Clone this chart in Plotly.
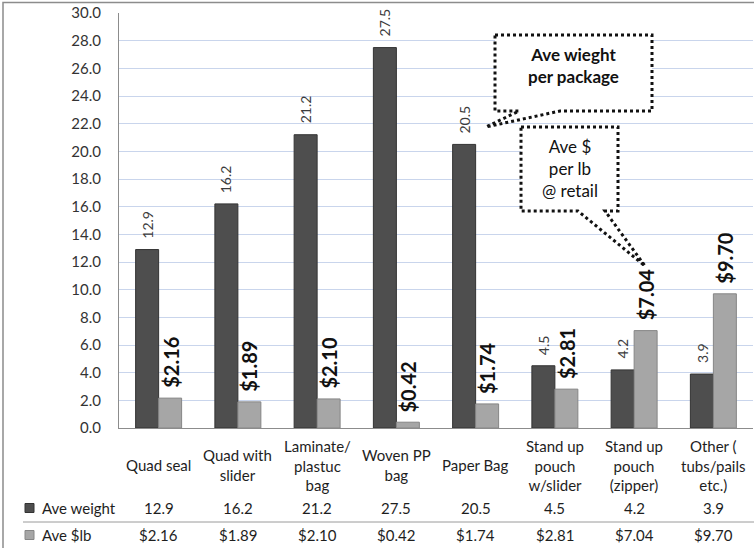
import plotly.graph_objects as go

# ---- data -------------------------------------------------------------
categories = ["Quad seal", "Quad with slider", "Laminate/ plastuc bag",
              "Woven PP bag", "Paper Bag", "Stand up pouch w/slider",
              "Stand up pouch (zipper)", "Other ( tubs/pails etc.)"]
category_labels = ["Quad seal", "Quad with<br>slider", "Laminate/<br>plastuc<br>bag",
                   "Woven PP<br>bag", "Paper Bag", "Stand up<br>pouch<br>w/slider",
                   "Stand up<br>pouch<br>(zipper)", "Other (<br>tubs/pails<br>etc.)"]
ave_weight = [12.9, 16.2, 21.2, 27.5, 20.5, 4.5, 4.2, 3.9]
ave_price_lb = [2.16, 1.89, 2.10, 0.42, 1.74, 2.81, 7.04, 9.70]
series_names = ["Ave weight", "Ave $lb"]
y_ticks = [0, 2, 4, 6, 8, 10, 12, 14, 16, 18, 20, 22, 24, 26, 28, 30]

# ---- layout constants (pixels) ---------------------------------------
FIG_W, FIG_H = 754, 548
M_L, M_R, M_T, M_B = 119, 1, 13, 120
PW, PH = FIG_W - M_L - M_R, FIG_H - M_T - M_B
FONT = "Lato, 'Open Sans', sans-serif"
DARK, DARK_EDGE = "#4e4e4e", "#333333"
LIGHT, LIGHT_EDGE = "#a6a6a6", "#868686"
TEXT = "#1e1e1e"


def px(x):
    """Pixel column -> paper x."""
    return (x - M_L) / PW


def py(y):
    """Pixel row -> paper y."""
    return (FIG_H - M_B - y) / PH


fig = go.Figure()
fig.add_trace(go.Bar(x=categories, y=ave_weight, name=series_names[0],
                     marker=dict(color=DARK, line=dict(color=DARK_EDGE, width=1))))
fig.add_trace(go.Bar(x=categories, y=ave_price_lb, name=series_names[1],
                     marker=dict(color=LIGHT, line=dict(color=LIGHT_EDGE, width=1))))

annotations = []
half_bar = 11.5
for cat, w, p in zip(categories, ave_weight, ave_price_lb):
    annotations.append(dict(x=cat, y=w, xref="x", yref="y", text=f"{w:.1f}",
                            textangle=-90, showarrow=False, xanchor="center",
                            yanchor="bottom", xshift=-half_bar, yshift=9,
                            font=dict(family=FONT, size=14, color="#3c3c3c")))
    annotations.append(dict(x=cat, y=p, xref="x", yref="y", text=f"<b>${p:.2f}</b>",
                            textangle=-90, showarrow=False, xanchor="center",
                            yanchor="bottom", xshift=half_bar, yshift=8,
                            font=dict(family=FONT, size=20, color="#111111")))

# category names and data table beneath the axis
for cat, lab, w, p in zip(categories, category_labels, ave_weight, ave_price_lb):
    annotations.append(dict(x=cat, y=0, xref="x", yref="paper", text=lab,
                            showarrow=False, yanchor="middle", yshift=-37,
                            font=dict(family=FONT, size=15, color=TEXT)))
    annotations.append(dict(x=cat, y=0, xref="x", yref="paper", text=f"{w:.1f}",
                            showarrow=False, yanchor="middle", yshift=-80,
                            font=dict(family=FONT, size=15, color=TEXT)))
    annotations.append(dict(x=cat, y=0, xref="x", yref="paper", text=f"${p:.2f}",
                            showarrow=False, yanchor="middle", yshift=-107,
                            font=dict(family=FONT, size=15, color=TEXT)))

for name, yrow in zip(series_names, [508, 535]):
    annotations.append(dict(x=px(40), y=py(yrow), xref="paper", yref="paper",
                            text=name, showarrow=False, xanchor="left", yanchor="middle",
                            font=dict(family=FONT, size=15, color=TEXT)))

# callout texts
annotations.append(dict(x=px(573), y=py(66), xref="paper", yref="paper",
                        text="<b>Ave wieght<br>per package</b>", showarrow=False,
                        xanchor="center", yanchor="middle",
                        font=dict(family=FONT, size=17, color="#111111")))
annotations.append(dict(x=px(570), y=py(169), xref="paper", yref="paper",
                        text="Ave $<br>per lb<br>@ retail", showarrow=False,
                        xanchor="center", yanchor="middle",
                        font=dict(family=FONT, size=17, color="#111111")))


def path(points):
    return "M " + " L ".join(f"{px(x):.5f},{py(y):.5f}" for x, y in points) + " Z"


dotted = dict(color="#111111", width=3, dash="dot")
shapes = [
    # outer chart frame
    dict(type="rect", xref="paper", yref="paper", x0=px(3), x1=px(780),
         y0=py(2.5), y1=py(600), line=dict(color="#8c8c8c", width=1.5), layer="below"),
    # data table row divider
    dict(type="line", xref="paper", yref="paper", x0=px(23), x1=px(754),
         y0=py(522), y1=py(522), line=dict(color="#9a9a9a", width=1)),
    # legend keys
    dict(type="rect", xref="paper", yref="paper", x0=px(25), x1=px(34),
         y0=py(503.5), y1=py(512.5), fillcolor=DARK, line=dict(color=DARK_EDGE, width=1)),
    dict(type="rect", xref="paper", yref="paper", x0=px(25), x1=px(34),
         y0=py(530.5), y1=py(539.5), fillcolor=LIGHT, line=dict(color=LIGHT_EDGE, width=1)),
    # callout: average weight per package
    dict(type="path", xref="paper", yref="paper", fillcolor="white",
         path=path([(495, 35), (652, 35), (652, 111), (560, 111), (486, 127),
                    (519, 111), (495, 111)]), line=dotted),
    # callout: average $ per lb at retail
    dict(type="path", xref="paper", yref="paper", fillcolor="white",
         path=path([(521, 127), (618, 127), (618, 211), (605, 211), (645, 266),
                    (578, 211), (521, 211)]), line=dotted),
]

fig.update_layout(
    width=FIG_W, height=FIG_H,
    margin=dict(l=M_L, r=M_R, t=M_T, b=M_B, pad=0),
    paper_bgcolor="white", plot_bgcolor="white",
    barmode="group", bargap=0.42, bargroupgap=0,
    showlegend=False,
    font=dict(family=FONT, size=15, color=TEXT),
    annotations=annotations, shapes=shapes,
    xaxis=dict(type="category", showticklabels=False, ticks="",
               showline=True, linecolor="#8c8c8c", linewidth=1,
               showgrid=False, zeroline=False),
    yaxis=dict(range=[0, 30], tickvals=y_ticks, tickformat=".1f",
               showline=True, linecolor="#8c8c8c", linewidth=1,
               showgrid=True, gridcolor="#c9d5ec", gridwidth=1,
               zeroline=False, ticks="", ticklabelstandoff=14,
               tickfont=dict(family=FONT, size=15, color="#333333")),
)

fig.write_html("out.html")
